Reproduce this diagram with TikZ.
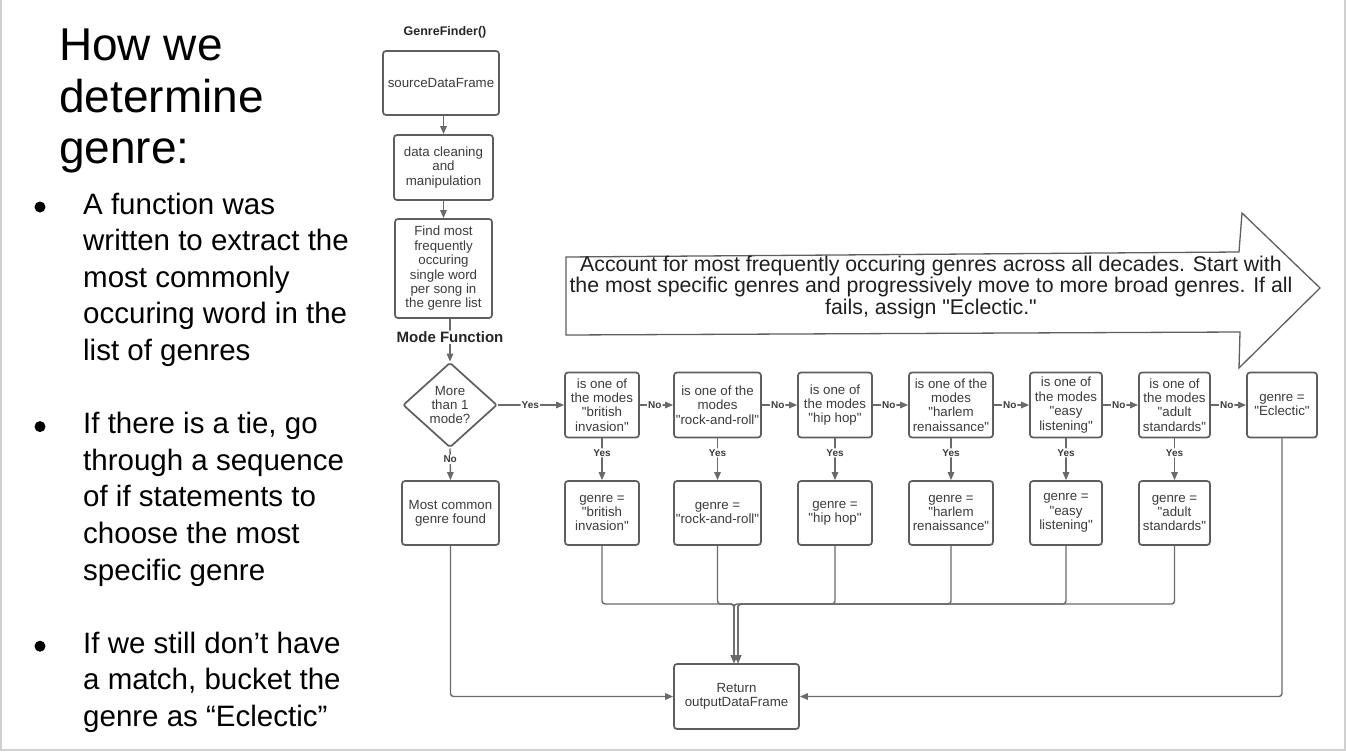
\documentclass[tikz,border=0pt]{standalone}
\usepackage{fontspec}
\setmainfont{Liberation Sans}[Ligatures=TeXOff]
\usetikzlibrary{arrows.meta,shapes.geometric}

\definecolor{boxgray}{HTML}{5E5E5E}
\definecolor{conngray}{HTML}{6A6A6A}
\definecolor{boxtext}{HTML}{3C3C3C}
\definecolor{framegray}{HTML}{D0D0D0}

\tikzset{
  flow/.style={draw=boxgray, line width=1.7pt, rounded corners=3pt, fill=white,
    align=center, text=boxtext, font=\fontsize{13.3}{14.4}\selectfont, inner sep=1pt},
  decision/.style={flow, shape=diamond, inner sep=0pt, rounded corners=2pt},
  conn/.style={draw=conngray, line width=1.4pt, rounded corners=3pt},
  arr/.style={conn, -{Triangle[length=8pt,width=6.5pt]}},
  lbl/.style={fill=white, inner sep=1pt, text=boxtext, font=\bfseries\fontsize{10}{10}\selectfont},
  heading/.style={text=black!85, font=\bfseries\fontsize{12.5}{13}\selectfont},
  title/.style={anchor=base west, text=black, font=\fontsize{46}{52}\selectfont, inner sep=0pt},
  bullettext/.style={anchor=base west, text=black, font=\fontsize{29.5}{36}\selectfont, inner sep=0pt},
}

\begin{document}
\begin{tikzpicture}[x=1pt, y=-1pt]
\useasboundingbox (0,0) rectangle (1346,752);

% slide frame
\draw[framegray, line width=1.2pt] (1,0) -- (1,750) -- (1345,750) -- (1345,0);

% ---------- left column: heading and bullet list ----------
\foreach \t/\y [count=\k] in {How we/60, determine/112, genre:/163}
  \node[title] (head\k) at (59,\y) {\t};

\foreach \t/\y [count=\k] in {
    A function was/214,
    written to extract the/250.6,
    most commonly/287.2,
    occuring word in the/323.8,
    list of genres/360.4,
    {If there is a tie, go}/433.6,
    through a sequence/470.2,
    of if statements to/506.8,
    choose the most/543.4,
    specific genre/580,
    If we still don’t have/653.2,
    {a match, bucket the}/689.8,
    genre as “Eclectic”/726.4}
  \node[bullettext] (line\k) at (83,\y) {\t};

\foreach \y in {207, 426.6, 646.2}
  \fill[black] (40,\y) circle (5.5pt);

% ---------- flowchart ----------
\node[heading] (gf) at (445,32) {GenreFinder()};

\node[flow, minimum width=116pt, minimum height=64pt] (src) at (441,83) {sourceDataFrame};
\node[flow, minimum width=99pt, minimum height=65pt] (clean) at (443.5,167.5) {data cleaning\\and\\manipulation};
\node[flow, minimum width=97pt, minimum height=99pt] (find) at (443.5,268.5)
  {Find most\\frequently\\occuring\\single word\\per song in\\the genre list};

\node[decision, minimum width=94pt, minimum height=85pt] (dia) at (450,405) {More\\than 1\\mode?};
\node[flow, minimum width=97pt, minimum height=64pt] (most) at (450.5,513) {Most common\\genre found};

% decision row
\node[flow, minimum width=74pt, minimum height=65pt] (q1) at (602,405) {is one of\\the modes\\"british\\invasion"};
\node[flow, minimum width=87pt, minimum height=65pt] (q2) at (717.5,405) {is one of the\\modes\\"rock-and-roll"};
\node[flow, minimum width=74pt, minimum height=65pt] (q3) at (835,405) {is one of\\the modes\\"hip hop"};
\node[flow, minimum width=84pt, minimum height=65pt] (q4) at (951,405) {is one of the\\modes\\"harlem\\renaissance"};
\node[flow, minimum width=72pt, minimum height=65pt] (q5) at (1066,405) {is one of\\the modes\\"easy\\listening"};
\node[flow, minimum width=71pt, minimum height=65pt] (q6) at (1174.5,405) {is one of\\the modes\\"adult\\standards"};
\node[flow, minimum width=70pt, minimum height=65pt] (q7) at (1282,405) {genre =\\"Eclectic"};

% result row
\node[flow, minimum width=74pt, minimum height=64pt] (r1) at (602,513) {genre =\\"british\\invasion"};
\node[flow, minimum width=87pt, minimum height=64pt] (r2) at (717.5,513) {genre =\\"rock-and-roll"};
\node[flow, minimum width=74pt, minimum height=64pt] (r3) at (835,513) {genre =\\"hip hop"};
\node[flow, minimum width=84pt, minimum height=64pt] (r4) at (951,513) {genre =\\"harlem\\renaissance"};
\node[flow, minimum width=72pt, minimum height=64pt] (r5) at (1066,513) {genre =\\"easy\\listening"};
\node[flow, minimum width=71pt, minimum height=64pt] (r6) at (1174.5,513) {genre =\\"adult\\standards"};

\node[flow, minimum width=125pt, minimum height=65pt] (ret) at (736.5,696.5) {Return\\outputDataFrame};

% connectors down the first column
\draw[arr] (src.south -| clean.north) -- (clean.north);
\draw[arr] (clean) -- (find);
\draw[arr] (find.south -| dia.north) -- node[lbl, pos=0.43, text=black!85, font=\bfseries\fontsize{15}{15}\selectfont] (mflabel) {Mode Function} (dia.north);
\draw[arr] (dia.east) -- node[lbl, pos=0.49] (yes0) {Yes} (q1.west);
\draw[arr] (dia.south) -- node[lbl, pos=0.35] (no0) {No} (most.north);

% "No" chain across the decision row
\foreach \a/\b in {1/2, 2/3, 3/4, 4/5, 5/6, 6/7}
  \draw[arr] (q\a.east) -- node[lbl, pos=0.45] (no\a) {No} (q\b.west);

% "Yes" branches
\foreach \i in {1,...,6}
  \draw[arr] (q\i.south) -- node[lbl, pos=0.35] (yes\i) {Yes} (r\i.north);

% merging results into the return box
\coordinate (mergeL) at (734,604);
\coordinate (mergeR) at (738,604);
\foreach \i in {1,2,3}
  \draw[arr] (r\i.south) |- (mergeL) -- (mergeL |- ret.north);
\foreach \i in {4,5,6}
  \draw[arr] (r\i.south) |- (mergeR) -- (mergeR |- ret.north);

\draw[arr] (most.south) |- (ret.west);
\draw[arr] (q7.south) |- (ret.east);

% big explanatory arrow
\draw[boxgray, line width=1.3pt, line join=miter]
  (566,257) -- (1239,252) -- (1242,213) -- (1320,288) -- (1239,368) -- (1240,332) -- (566,335) -- cycle;
\node[align=center, text=black!88, font=\fontsize{21.3}{21.5}\selectfont, inner sep=0pt] (acct) at (931,287)
  {Account for most frequently occuring genres across all decades. Start with\\
   the most specific genres and progressively move to more broad genres. If all\\
   fails, assign "Eclectic."};

\end{tikzpicture}
\end{document}
